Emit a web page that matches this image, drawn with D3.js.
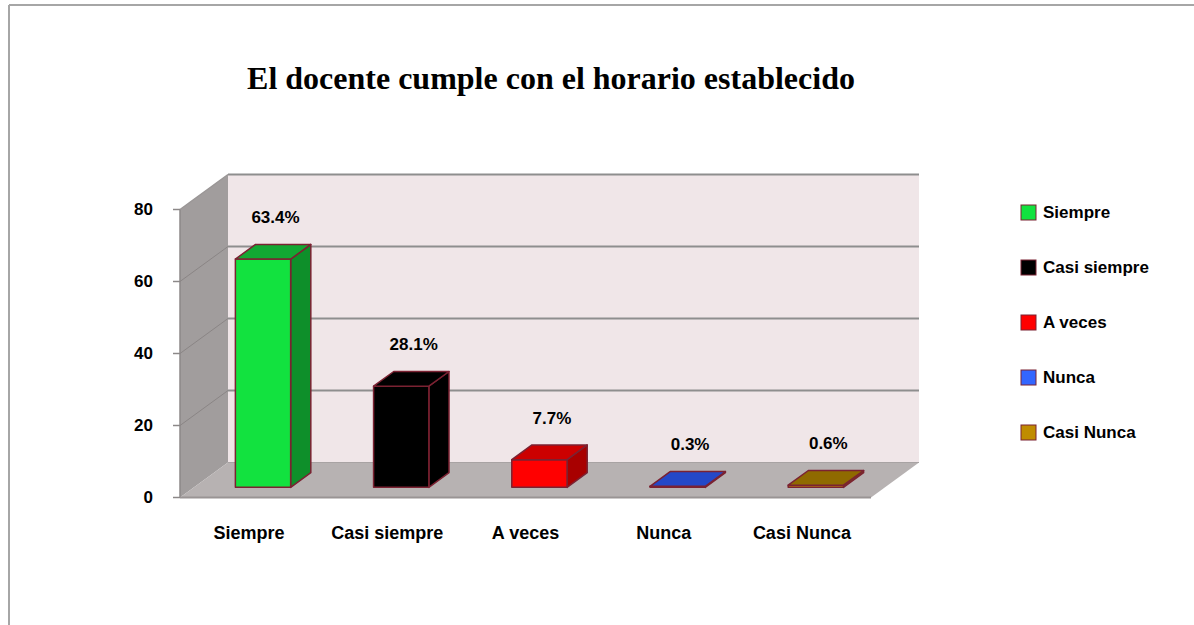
<!DOCTYPE html>
<html>
<head>
<meta charset="utf-8">
<script src="https://cdn.jsdelivr.net/npm/d3@7"></script>
<style>
  body { margin: 0; background: #fff; }
  svg text { font-family: "Liberation Sans", Arial, sans-serif; font-weight: bold; fill: #000; }
</style>
</head>
<body>
<div id="chart"></div>
<script>
// chart data
const categories = ["Siempre", "Casi siempre", "A veces", "Nunca", "Casi Nunca"]
const values = [63.4, 28.1, 7.7, 0.3, 0.6]
const valueLabels = ["63.4%", "28.1%", "7.7%", "0.3%", "0.6%"]
const yTicks = [0, 20, 40, 60, 80]

// face colours per bar: front, side, top
const colors = [
  {front: "#12e23f", side: "#0e8f2a", top: "#12a833", legend: "#12e23f"},
  {front: "#000000", side: "#000000", top: "#000000", legend: "#000000"},
  {front: "#ff0000", side: "#a80000", top: "#cc0000", legend: "#ff0000"},
  {front: "#3366ff", side: "#2040a0", top: "#2448c8", legend: "#3366ff"},
  {front: "#c08c00", side: "#7a5a00", top: "#8f6a00", legend: "#c08c00"}
]

const W = 1194, H = 625
const depthX = 48, depthY = -35   // offset from front plane to back wall

const svg = d3.select("#chart").append("svg")
  .attr("width", W)
  .attr("height", H)

// outer frame (top and left edges only visible)
svg.append("line").attr("x1", 9).attr("y1", 5).attr("x2", W).attr("y2", 5)
  .attr("stroke", "#a6a6a6").attr("stroke-width", 2)
svg.append("line").attr("x1", 9).attr("y1", 5).attr("x2", 9).attr("y2", H)
  .attr("stroke", "#a6a6a6").attr("stroke-width", 2)

// title
svg.append("text")
  .attr("x", 551).attr("y", 89)
  .attr("text-anchor", "middle")
  .style("font-family", "'Liberation Serif', 'Times New Roman', serif")
  .style("font-size", "32px")
  .text("El docente cumple con el horario establecido")

// scales (front plane)
const x = d3.scaleBand().domain(categories).range([180, 871])
const y = d3.scaleLinear().domain([0, 80]).range([497.5, 209.5])

// project a point: px on front plane, value, depth 0 (front) .. 1 (back)
function P(px, v, d) { return [px + d * depthX, y(v) + d * depthY] }
const poly = pts => pts.map(p => p.join(",")).join(" ")

const x0 = x.range()[0], x1 = x.range()[1]

// left wall
svg.append("polygon")
  .attr("points", poly([P(x0, 0, 0), P(x0, 80, 0), P(x0, 80, 1), P(x0, 0, 1)]))
  .attr("fill", "#a19d9d")
svg.append("line")
  .attr("x1", P(x0, 80, 0)[0]).attr("y1", P(x0, 80, 0)[1])
  .attr("x2", P(x0, 80, 1)[0]).attr("y2", P(x0, 80, 1)[1])
  .attr("stroke", "#9a9696").attr("stroke-width", 1.5)
svg.append("line")
  .attr("x1", P(x0, 0, 0)[0]).attr("y1", P(x0, 0, 0)[1])
  .attr("x2", P(x0, 80, 0)[0]).attr("y2", P(x0, 80, 0)[1])
  .attr("stroke", "#8c8888").attr("stroke-width", 1.5)

// back wall
svg.append("polygon")
  .attr("points", poly([P(x0, 0, 1), P(x0, 80, 1), P(x1, 80, 1), P(x1, 0, 1)]))
  .attr("fill", "#f0e6e8")

// gridlines on back wall and left wall
yTicks.filter(v => v > 0).forEach(v => {
  const a = P(x0, v, 1), b = P(x1, v, 1), f = P(x0, v, 0)
  svg.append("line").attr("x1", a[0]).attr("y1", a[1]).attr("x2", b[0]).attr("y2", b[1])
    .attr("stroke", "#8e8e8e").attr("stroke-width", 2)
  if (v < 80) {
    svg.append("line").attr("x1", f[0]).attr("y1", f[1]).attr("x2", a[0]).attr("y2", a[1])
      .attr("stroke", "#8a8585").attr("stroke-width", 1)
  }
})

// floor
svg.append("polygon")
  .attr("points", poly([P(x0, 0, 0), P(x0, 0, 1), P(x1, 0, 1), P(x1, 0, 0)]))
  .attr("fill", "#b7b2b2")
svg.append("line")
  .attr("x1", P(x0, 0, 0)[0]).attr("y1", P(x0, 0, 0)[1])
  .attr("x2", P(x1, 0, 0)[0]).attr("y2", P(x1, 0, 0)[1])
  .attr("stroke", "#999494").attr("stroke-width", 2)
svg.append("line")
  .attr("x1", P(x0, 0, 1)[0]).attr("y1", P(x0, 0, 1)[1])
  .attr("x2", P(x1, 0, 1)[0]).attr("y2", P(x1, 0, 1)[1])
  .attr("stroke", "#a8a3a3").attr("stroke-width", 1)

// y axis ticks and labels
yTicks.forEach(v => {
  svg.append("line").attr("x1", x0 - 7).attr("x2", x0).attr("y1", y(v)).attr("y2", y(v))
    .attr("stroke", "#8c8888").attr("stroke-width", 1.5)
  svg.append("text")
    .attr("x", 153).attr("y", y(v)).attr("dy", "0.35em")
    .attr("text-anchor", "end")
    .style("font-size", "17px")
    .text(v)
})

// bars
const d0 = 0.29, d1 = 0.71
const barPad = 0.3
const bars = svg.append("g")
categories.forEach((c, i) => {
  const v = values[i], col = colors[i]
  const bx0 = x(c) + x.bandwidth() * barPad
  const bx1 = x(c) + x.bandwidth() * (1 - barPad)
  const g = bars.append("g")
    .attr("stroke", "#7b2232").attr("stroke-width", 1.5).attr("stroke-linejoin", "round")
  // right side
  g.append("polygon")
    .attr("points", poly([P(bx1, 0, d0), P(bx1, v, d0), P(bx1, v, d1), P(bx1, 0, d1)]))
    .attr("fill", col.side)
  // front face
  g.append("polygon")
    .attr("points", poly([P(bx0, 0, d0), P(bx0, v, d0), P(bx1, v, d0), P(bx1, 0, d0)]))
    .attr("fill", col.front)
  // top face
  g.append("polygon")
    .attr("points", poly([P(bx0, v, d0), P(bx0, v, d1), P(bx1, v, d1), P(bx1, v, d0)]))
    .attr("fill", col.top)

  // value label
  const top = P(x(c) + x.bandwidth() / 2, v, 0.55)
  svg.append("text")
    .attr("x", top[0]).attr("y", top[1] - 27)
    .attr("text-anchor", "middle")
    .style("font-size", "17px")
    .text(valueLabels[i])

  // category label
  svg.append("text")
    .attr("x", x(c) + x.bandwidth() / 2).attr("y", 539)
    .attr("text-anchor", "middle")
    .style("font-size", "18px")
    .text(c)
})

// legend
const legend = svg.append("g").attr("transform", "translate(1021,205)")
categories.forEach((c, i) => {
  const row = legend.append("g").attr("transform", "translate(0," + (i * 55) + ")")
  row.append("rect").attr("width", 15).attr("height", 15)
    .attr("fill", colors[i].legend).attr("stroke", "#7b2232").attr("stroke-width", 1)
  row.append("text").attr("x", 22).attr("y", 7.5).attr("dy", "0.35em")
    .style("font-size", "17px")
    .text(c)
})
</script>
</body>
</html>
